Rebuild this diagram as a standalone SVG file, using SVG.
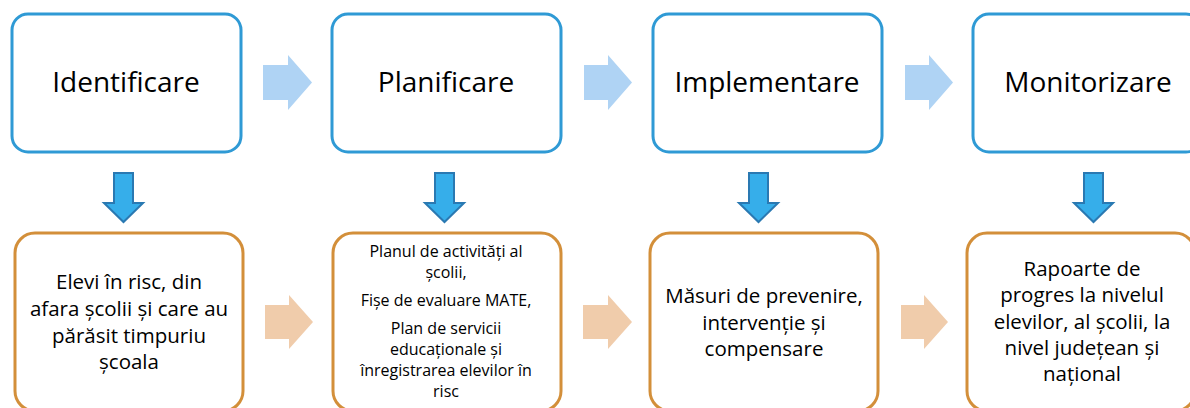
<svg xmlns="http://www.w3.org/2000/svg" width="1190" height="408" viewBox="0 0 1190 408">
<style>
.top{fill:#fff;stroke:#2F9AD5;stroke-width:3}
.bot{fill:#fff;stroke:#D38F3A;stroke-width:3}
.t{font-family:"Open Sans","Liberation Sans",sans-serif;font-variant-ligatures:none;fill:#000;text-anchor:middle}
.h{font-size:28px}
.m{font-size:20.5px}
.s{font-size:16px}
.ra{fill:#AFD3F4}
.pa{fill:#F0CCAB}
.da{fill:#36AEEA;stroke:#2A79B2;stroke-width:2}
</style>
<rect width="1190" height="408" fill="#fff"/>
<g id="n1"><rect class="top" x="12" y="14" width="229" height="138" rx="16"/><text class="t h" x="126" y="92">Identificare</text></g>
<g id="n2"><rect class="top" x="332" y="14" width="229" height="138" rx="16"/><text class="t h" x="446" y="92">Planificare</text></g>
<g id="n3"><rect class="top" x="653" y="14" width="229" height="138" rx="16"/><text class="t h" x="767" y="92">Implementare</text></g>
<g id="n4"><rect class="top" x="973" y="14" width="229" height="138" rx="16"/><text class="t h" x="1088" y="92">Monitorizare</text></g>
<g id="b1"><rect class="bot" x="15" y="233" width="228" height="178" rx="20"/>
<text class="t m" x="129"><tspan x="129" y="289">Elevi în risc, din</tspan><tspan x="129" y="316">afara școlii și care au</tspan><tspan x="129" y="343">părăsit timpuriu</tspan><tspan x="129" y="369">școala</tspan></text></g>
<g id="b2"><rect class="bot" x="333" y="233" width="228" height="178" rx="20"/>
<text class="t s" x="446"><tspan x="446" y="257">Planul de activități al</tspan><tspan x="446" y="278">școlii,</tspan><tspan x="446" y="306">Fișe de evaluare MATE,</tspan><tspan x="446" y="334">Plan de servicii</tspan><tspan x="446" y="355">educaționale și</tspan><tspan x="446" y="376">înregistrarea elevilor în</tspan><tspan x="446" y="397">risc</tspan></text></g>
<g id="b3"><rect class="bot" x="650" y="233" width="228" height="178" rx="20"/>
<text class="t m" x="764"><tspan x="764" y="303">Măsuri de prevenire,</tspan><tspan x="764" y="330">intervenție și</tspan><tspan x="764" y="356">compensare</tspan></text></g>
<g id="b4"><rect class="bot" x="967" y="233" width="228" height="178" rx="20"/>
<text class="t m" x="1082"><tspan x="1082" y="276">Rapoarte de</tspan><tspan x="1082" y="302">progres la nivelul</tspan><tspan x="1082" y="329">elevilor, al școlii, la</tspan><tspan x="1082" y="355">nivel județean și</tspan><tspan x="1082" y="381">național</tspan></text></g>
<g id="connectors">
<polygon class="ra" points="263,65 288,65 288,55 312,82.5 288,110 288,100 263,100"/>
<polygon class="ra" points="584,65 608,65 608,55 632,82.5 608,110 608,100 584,100"/>
<polygon class="ra" points="905,65 929,65 929,55 953,82.5 929,110 929,100 905,100"/>
<polygon class="pa" points="265,305 289,305 289,295 313,322 289,349 289,339 265,339"/>
<polygon class="pa" points="583,305 608,305 608,295 632,322 608,349 608,339 583,339"/>
<polygon class="pa" points="901,305 924,305 924,295 948,322 924,349 924,339 901,339"/>
<polygon class="da" points="114,173 133,173 133,203 143,203 123.5,222 104,203 114,203"/>
<polygon class="da" points="435,173 454,173 454,203 464,203 444.5,222 425,203 435,203"/>
<polygon class="da" points="749,173 768,173 768,203 778,203 758.5,222 739,203 749,203"/>
<polygon class="da" points="1084,173 1103,173 1103,203 1113,203 1093.5,222 1074,203 1084,203"/>
</g>
</svg>
